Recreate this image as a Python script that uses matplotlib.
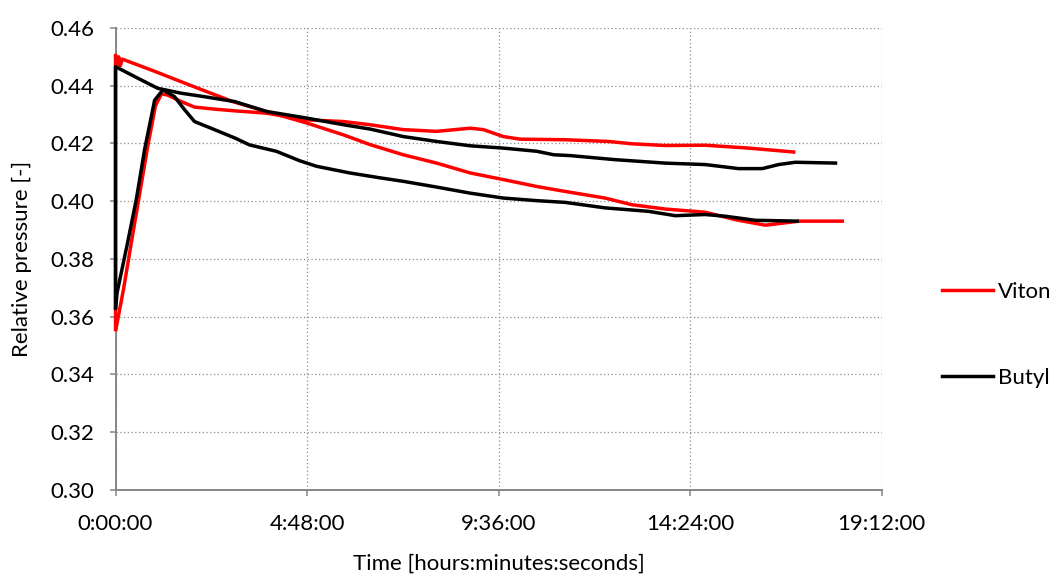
import matplotlib
matplotlib.use("Agg")
import matplotlib.pyplot as plt
from matplotlib.ticker import FuncFormatter
from matplotlib.lines import Line2D

plt.rcParams['font.family'] = ['Lato', 'DejaVu Sans']

# ---- data (time in hours, relative pressure [-]) ----
viton_a_t = [0.0, 0.0, 0.04, 0.08, 0.12, 0.17, 0.23, 0.98, 1.81, 2.11, 2.94, 3.78, 4.79, 5.71,
             6.38, 7.21, 8.05, 8.89, 9.72, 10.56, 11.27, 12.27, 12.94, 13.78, 14.78, 15.54,
             16.29, 17.13, 18.26]
viton_a_v = [0.355, 0.4506, 0.4472, 0.4500, 0.4470, 0.4492, 0.4489, 0.4450, 0.4405, 0.4389,
             0.4345, 0.4311, 0.4271, 0.4230, 0.4196, 0.4161, 0.4132, 0.4098, 0.4075, 0.4051,
             0.4034, 0.4011, 0.3988, 0.3973, 0.3962, 0.3936, 0.3917, 0.3931, 0.3931]

viton_b_t = [0.0, 0.20, 0.40, 0.60, 0.80, 1.00, 1.15, 1.30, 1.65, 1.98, 2.48, 2.99, 3.78,
             4.79, 5.71, 6.38, 7.21, 8.05, 8.89, 9.22, 9.72, 10.14, 11.27, 12.36, 12.94,
             13.78, 14.78, 15.87, 17.04]
viton_b_v = [0.355, 0.3695, 0.3860, 0.4022, 0.4185, 0.4330, 0.4372, 0.4368, 0.4345, 0.4326,
             0.4319, 0.4313, 0.4305, 0.4282, 0.4276, 0.4265, 0.4248, 0.4242, 0.4253, 0.4248,
             0.4224, 0.4215, 0.4213, 0.4207, 0.4199, 0.4193, 0.4194, 0.4184, 0.4170]

butyl_a_t = [0.0, 0.0, 0.56, 1.06, 1.65, 2.23, 2.99, 3.78, 4.79, 5.71, 6.38, 7.21, 8.05,
             8.89, 9.72, 10.56, 10.98, 11.40, 12.52, 13.78, 14.78, 15.62, 16.21, 16.62,
             17.04, 18.09]
butyl_a_v = [0.3625, 0.4466, 0.4426, 0.4391, 0.4374, 0.4362, 0.4345, 0.4311, 0.4288, 0.4265,
             0.4250, 0.4224, 0.4207, 0.4192, 0.4184, 0.4173, 0.4161, 0.4158, 0.4144, 0.4132,
             0.4127, 0.4113, 0.4113, 0.4127, 0.4135, 0.4132]

butyl_b_t = [0.0, 0.04, 0.30, 0.52, 0.73, 0.98, 1.19, 1.48, 1.73, 1.98, 2.48, 2.99, 3.36,
             4.03, 4.62, 5.04, 5.87, 6.63, 7.21, 8.05, 8.89, 9.72, 10.56, 11.27, 12.27,
             13.36, 14.03, 14.78, 15.29, 16.04, 17.13]
butyl_b_v = [0.3625, 0.3684, 0.3855, 0.4006, 0.4180, 0.4350, 0.4386, 0.4362, 0.4317, 0.4276,
             0.4248, 0.4219, 0.4195, 0.4173, 0.4140, 0.4121, 0.4098, 0.4081, 0.4069, 0.4049,
             0.4028, 0.4011, 0.4002, 0.3996, 0.3977, 0.3965, 0.3950, 0.3954, 0.3948, 0.3934,
             0.3931]

x_ticks = [0.0, 4.8, 9.6, 14.4, 19.2]
y_ticks = [0.30, 0.32, 0.34, 0.36, 0.38, 0.40, 0.42, 0.44, 0.46]
series_labels = ['Viton', 'Butyl']
series_colors = ['#ff0000', '#000000']

fig = plt.figure(figsize=(10.57, 5.77), dpi=100)
ax = fig.add_axes([0.1093, 0.1508, 0.7247, 0.8007])

lw = 2.5
for t, v in [(viton_a_t, viton_a_v), (viton_b_t, viton_b_v)]:
    ax.plot(t, v, color=series_colors[0], lw=lw, clip_on=False, zorder=3,
            solid_joinstyle='round', solid_capstyle='butt')
for t, v in [(butyl_a_t, butyl_a_v), (butyl_b_t, butyl_b_v)]:
    ax.plot(t, v, color=series_colors[1], lw=lw, clip_on=False, zorder=3,
            solid_joinstyle='round', solid_capstyle='butt')

ax.set_xlim(0, 19.2)
ax.set_ylim(0.30, 0.46)
ax.set_xticks(x_ticks)
ax.set_yticks(y_ticks)

def fmt_time(x, pos):
    total = int(round(x * 3600))
    h = total // 3600
    m = (total % 3600) // 60
    s = total % 60
    return f"{h}:{m:02d}:{s:02d}"

ax.xaxis.set_major_formatter(FuncFormatter(fmt_time))
ax.yaxis.set_major_formatter(FuncFormatter(lambda y, p: f"{y:.2f}"))

ax.grid(True, color='#8c8c8c', linestyle=(0, (1, 2)), linewidth=0.9)
ax.set_axisbelow(True)
for s in ['top', 'right']:
    ax.spines[s].set_visible(False)
for s in ['left', 'bottom']:
    ax.spines[s].set_color('#868686')
    ax.spines[s].set_linewidth(1.4)
ax.tick_params(axis='both', colors='#868686', labelcolor='black', labelsize=16,
               length=4.5, width=1.1, direction='out')
ax.tick_params(axis='y', pad=11)
ax.tick_params(axis='x', pad=13)

ax.set_xlabel('Time [hours:minutes:seconds]', fontsize=16, labelpad=14)
ax.set_ylabel('Relative pressure [-]', fontsize=16, labelpad=13)

handles = [Line2D([], [], color=c, lw=lw) for c in series_colors]
fig.legend(handles, series_labels, loc='center left', bbox_to_anchor=(0.883, 0.419),
           frameon=False, fontsize=16, labelspacing=2.97, handlelength=2.3,
           handletextpad=0.2, borderaxespad=0.0)

fig.savefig('out.png', dpi=100)
